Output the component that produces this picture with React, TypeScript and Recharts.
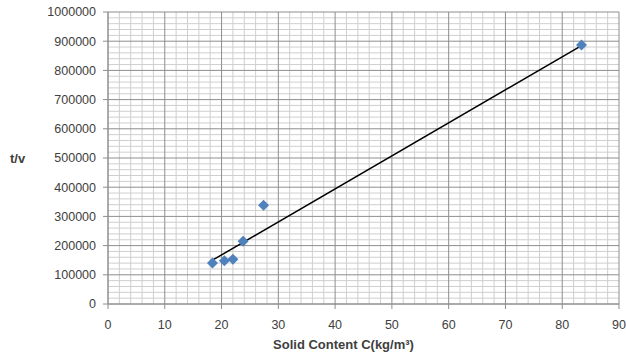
import React from 'react';
import {
  ScatterChart,
  Scatter,
  XAxis,
  YAxis,
  CartesianGrid,
} from 'recharts';

const solidContent = [18.4, 20.5, 22.0, 23.8, 27.4, 83.4];
const tOverV = [140000, 148000, 153000, 215000, 338000, 887000];

const trendX = [18.4, 83.4];
const trendY = [150000, 885000];

const X_MAX = 90;
const Y_MAX = 1000000;
const xTicks = [0, 10, 20, 30, 40, 50, 60, 70, 80, 90];
const yTicks = [0, 100000, 200000, 300000, 400000, 500000, 600000, 700000, 800000, 900000, 1000000];
const xMinor = [2, 4, 6, 8, 12, 14, 16, 18, 22, 24, 26, 28, 32, 34, 36, 38, 42, 44, 46, 48, 52, 54, 56, 58, 62, 64, 66, 68, 72, 74, 76, 78, 82, 84, 86, 88];
const yMinor = [
  20000, 40000, 60000, 80000, 120000, 140000, 160000, 180000, 220000, 240000, 260000, 280000,
  320000, 340000, 360000, 380000, 420000, 440000, 460000, 480000, 520000, 540000, 560000, 580000,
  620000, 640000, 660000, 680000, 720000, 740000, 760000, 780000, 820000, 840000, 860000, 880000,
  920000, 940000, 960000, 980000,
];

const points = solidContent.map((x, i) => ({ x, y: tOverV[i] }));
const trend = trendX.map((x, i) => ({ x, y: trendY[i] }));

const FONT = '"Liberation Sans", Arial, sans-serif';

const Diamond = (props: any) => {
  const { cx, cy } = props;
  const r = 5.5;
  return (
    <polygon
      points={`${cx},${cy - r} ${cx + r},${cy} ${cx},${cy + r} ${cx - r},${cy}`}
      fill="#4f81bd"
    />
  );
};

// minor grid positions from the plot offset the chart hands the generator
const minorH = ({ offset }: any) =>
  yMinor.map((v) => offset.top + offset.height * (1 - v / Y_MAX));
const minorV = ({ offset }: any) =>
  xMinor.map((v) => offset.left + offset.width * (v / X_MAX));

export default function App() {
  return (
    <div style={{ position: 'absolute', left: 0, top: 0, fontFamily: FONT }}>
      <ScatterChart width={626} height={354} margin={{ top: 12, right: 7, bottom: 0, left: 0 }}>
        <CartesianGrid
          stroke="#cfcfcf"
          horizontalCoordinatesGenerator={minorH}
          verticalCoordinatesGenerator={minorV}
        />
        <CartesianGrid stroke="#8e8e8e" />
        <XAxis
          type="number"
          dataKey="x"
          domain={[0, X_MAX]}
          ticks={xTicks}
          interval={0}
          height={50}
          tickSize={5}
          tickMargin={11}
          stroke="#8e8e8e"
          tick={{ fill: '#404040', fontSize: 12.5, fontFamily: FONT }}
          label={{
            value: 'Solid Content C(kg/m³)',
            position: 'insideBottom',
            offset: 5,
            dx: -20,
            fill: '#404040',
            fontSize: 13,
            fontWeight: 'bold',
            fontFamily: FONT,
          }}
        />
        <YAxis
          type="number"
          dataKey="y"
          domain={[0, Y_MAX]}
          ticks={yTicks}
          interval={0}
          width={108}
          tickSize={5}
          tickMargin={7}
          stroke="#8e8e8e"
          tick={{ fill: '#404040', fontSize: 12.5, fontFamily: FONT }}
          label={{
            value: 't/v',
            position: 'insideLeft',
            offset: 10,
            fill: '#404040',
            fontSize: 13,
            fontWeight: 'bold',
            fontFamily: FONT,
          }}
        />
        <Scatter
          data={trend}
          line={{ stroke: '#000000', strokeWidth: 1.5 }}
          shape={() => <g />}
          isAnimationActive={false}
        />
        <Scatter data={points} shape={<Diamond />} isAnimationActive={false} />
      </ScatterChart>
    </div>
  );
}
